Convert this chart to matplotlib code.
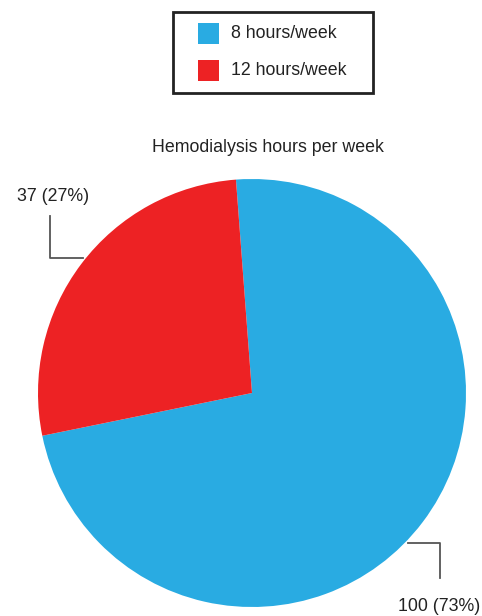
import matplotlib.pyplot as plt
from matplotlib.patches import Rectangle
import numpy as np

# Données
categories = ["8 hours/week", "12 hours/week"]
counts = [100, 37]
colors = ["#29ABE2", "#ED2224"]
titre = "Hemodialysis hours per week"

plt.rcParams['font.family'] = ['Liberation Sans', 'DejaVu Sans']
fs = 12.8

W, H = 482, 616
fig = plt.figure(figsize=(W / 100, H / 100), dpi=100)
ax = fig.add_axes([0, 0, 1, 1])

# Camembert (coordonnées en pixels, y vers le haut)
cx, cy, r = 252, H - 393, 214
wedges, _ = ax.pie(counts, colors=colors, startangle=94.3, counterclock=False,
                   center=(cx, cy), radius=r, wedgeprops=dict(linewidth=0))
ax.set_xlim(0, W)
ax.set_ylim(0, H)
ax.set_aspect('equal')
ax.axis('off')

# Étiquettes avec lignes de rappel
total = sum(counts)
label_angles = [-43.9, 141.4]   # point d'attache sur le bord
elbows = [(32, -35), (-33, 42)]  # décalage horizontal puis vertical
for n, ang, (dx, dy) in zip(counts, label_angles, elbows):
    a = np.deg2rad(ang)
    x0, y0 = cx + (r + 2) * np.cos(a), cy + (r + 2) * np.sin(a)
    x1, y2 = x0 + dx, y0 + dy
    ax.plot([x0, x1, x1], [y0, y0, y2], color="#555555", linewidth=1.3)
    ty = y2 + (20 if dy > 0 else -29)
    ax.text(x1 + (3 if dy > 0 else -1), ty, f"{n} ({n / total:.0%})",
            ha="center", va="center", fontsize=fs, color="#222222")

# Titre
ax.text(cx + 16, H - 147, titre, ha="center", va="center", fontsize=fs, color="#222222")

# Légende dessinée à la main
ax.add_patch(Rectangle((173, H - 93), 200, 81, fill=False, edgecolor="#222222", linewidth=2))
for i, (cat, col) in enumerate(zip(categories, colors)):
    ytop = H - 23 - i * 37
    ax.add_patch(Rectangle((198, ytop - 21), 21, 21, facecolor=col, edgecolor="none"))
    ax.text(231, ytop - 10.5, cat, ha="left", va="center", fontsize=fs, color="#222222")

fig.savefig("out.png", dpi=100)
